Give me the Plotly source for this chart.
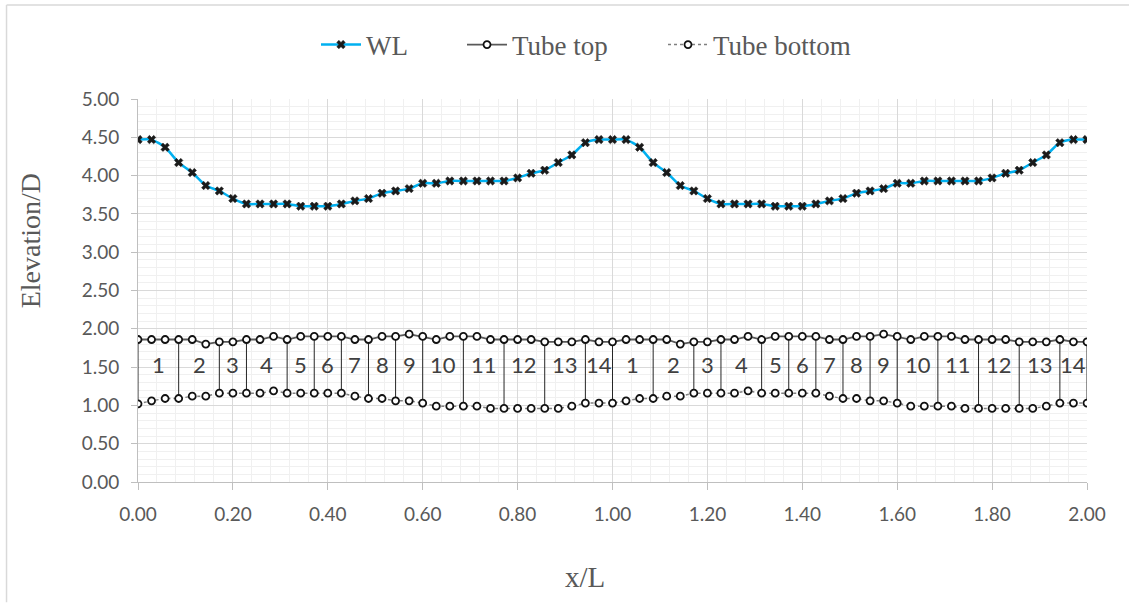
import plotly.graph_objects as go

# x/L positions: 71 stations (spacing 1/35 of L)
n_pts = 71
x_vals = [round(i / 35, 5) for i in range(n_pts)]

wl = [4.47, 4.47, 4.37, 4.17, 4.04, 3.87, 3.80, 3.70, 3.63, 3.63, 3.63, 3.63, 3.60, 3.60, 3.60,
      3.63, 3.67, 3.70, 3.77, 3.80, 3.83, 3.90, 3.90, 3.93, 3.93, 3.93, 3.93, 3.93, 3.97, 4.03,
      4.07, 4.17, 4.27, 4.43, 4.47,
      4.47, 4.47, 4.37, 4.17, 4.04, 3.87, 3.80, 3.70, 3.63, 3.63, 3.63, 3.63, 3.60, 3.60, 3.60,
      3.63, 3.67, 3.70, 3.77, 3.80, 3.83, 3.90, 3.90, 3.93, 3.93, 3.93, 3.93, 3.93, 3.97, 4.03,
      4.07, 4.17, 4.27, 4.43, 4.47, 4.47]

tube_top = [1.86, 1.86, 1.86, 1.86, 1.86, 1.80, 1.83, 1.83, 1.86, 1.86, 1.90, 1.86, 1.90, 1.90, 1.90,
            1.90, 1.86, 1.86, 1.90, 1.90, 1.93, 1.90, 1.86, 1.90, 1.90, 1.90, 1.86, 1.86, 1.86, 1.86,
            1.83, 1.83, 1.83, 1.86, 1.83,
            1.83, 1.86, 1.86, 1.86, 1.86, 1.80, 1.83, 1.83, 1.86, 1.86, 1.90, 1.86, 1.90, 1.90, 1.90,
            1.90, 1.86, 1.86, 1.90, 1.90, 1.93, 1.90, 1.86, 1.90, 1.90, 1.90, 1.86, 1.86, 1.86, 1.86,
            1.83, 1.83, 1.83, 1.86, 1.83, 1.83]

tube_bottom = [1.02, 1.06, 1.09, 1.09, 1.12, 1.12, 1.16, 1.16, 1.16, 1.16, 1.19, 1.16, 1.16, 1.16, 1.16,
               1.16, 1.12, 1.09, 1.09, 1.06, 1.06, 1.03, 0.99, 0.99, 0.99, 0.99, 0.96, 0.96, 0.96, 0.96,
               0.96, 0.96, 0.99, 1.03, 1.03,
               1.03, 1.06, 1.09, 1.09, 1.12, 1.12, 1.16, 1.16, 1.16, 1.16, 1.19, 1.16, 1.16, 1.16, 1.16,
               1.16, 1.12, 1.09, 1.09, 1.06, 1.06, 1.03, 0.99, 0.99, 0.99, 0.99, 0.96, 0.96, 0.96, 0.96,
               0.96, 0.96, 0.99, 1.03, 1.03, 1.03]

# station indices where tube boundaries (vertical lines) are drawn
tube_bounds = [0, 3, 6, 8, 11, 13, 15, 17, 19, 21, 24, 27, 30, 33, 35,
               38, 41, 43, 46, 48, 50, 52, 54, 56, 59, 62, 65, 68, 70]
tube_labels = ["1", "2", "3", "4", "5", "6", "7", "8", "9", "10", "11", "12", "13", "14",
               "1", "2", "3", "4", "5", "6", "7", "8", "9", "10", "11", "12", "13", "14"]
label_y = 1.53

x_ticks = [0.0, 0.2, 0.4, 0.6, 0.8, 1.0, 1.2, 1.4, 1.6, 1.8, 2.0]
y_ticks = [0.0, 0.5, 1.0, 1.5, 2.0, 2.5, 3.0, 3.5, 4.0, 4.5, 5.0]

SERIF = "Liberation Serif, Times New Roman, serif"
SANS = "Lato, Carlito, Calibri, sans-serif"
GRAY = "#595959"

L, R, T, B = 137.5, 42.3, 99, 120.5
PW, PH = 1129 - L - R, 603 - T - B


def px_x(px):
    return (px - L) / PW


def px_y(py):
    return (603 - B - py) / PH


fig = go.Figure()

# vertical tube boundary lines
vx, vy = [], []
for b in tube_bounds:
    vx += [x_vals[b], x_vals[b], None]
    vy += [tube_bottom[b], tube_top[b], None]
fig.add_trace(go.Scatter(x=vx, y=vy, mode="lines", line=dict(color="#262626", width=1),
                         showlegend=False, hoverinfo="skip"))

fig.add_trace(go.Scatter(x=x_vals, y=wl, name="WL", mode="lines+markers", legend="legend",
                         line=dict(color="#00B0F0", width=2.5, shape="spline", smoothing=0.6),
                         marker=dict(symbol="x", size=7.5, color="#1a1a1a",
                                     line=dict(width=0.5, color="#1a1a1a"))))
fig.add_trace(go.Scatter(x=x_vals, y=tube_top, name="Tube top", mode="lines+markers", legend="legend2",
                         line=dict(color="#595959", width=1.8),
                         marker=dict(symbol="circle", size=7, color="white",
                                     line=dict(width=1.8, color="#111111"))))
fig.add_trace(go.Scatter(x=x_vals, y=tube_bottom, name="Tube bottom", mode="lines+markers", legend="legend3",
                         line=dict(color="#7f7f7f", width=1.5, dash="dot"),
                         marker=dict(symbol="circle", size=7, color="white",
                                     line=dict(width=1.8, color="#111111"))))

# tube number labels
for k, lab in enumerate(tube_labels):
    xa = x_vals[tube_bounds[k]]
    xb = x_vals[tube_bounds[k + 1]]
    fig.add_annotation(x=(xa + xb) / 2, y=label_y, text=lab, showarrow=False,
                       font=dict(family=SANS, size=22, color="#404040"),
                       xanchor="center", yanchor="middle")

# axis titles
fig.add_annotation(xref="paper", yref="paper", x=px_x(30), y=px_y(241), text="Elevation/D",
                   textangle=-90, showarrow=False, xanchor="center", yanchor="middle",
                   font=dict(family=SERIF, size=28, color=GRAY))
fig.add_annotation(xref="paper", yref="paper", x=px_x(585), y=px_y(578), text="x/L",
                   showarrow=False, xanchor="center", yanchor="middle",
                   font=dict(family=SERIF, size=29, color=GRAY))

# chart border (top and left edges visible)
fig.add_shape(type="line", xref="paper", yref="paper",
              x0=px_x(6), x1=px_x(1129), y0=px_y(5), y1=px_y(5),
              line=dict(color="#d9d9d9", width=1.5))
fig.add_shape(type="line", xref="paper", yref="paper",
              x0=px_x(6), x1=px_x(6), y0=px_y(5), y1=px_y(603),
              line=dict(color="#d9d9d9", width=1.5))


def leg(text_start_px):
    return dict(orientation="h", xref="container", yref="container",
                x=(text_start_px - 52) / 1129, xanchor="left", y=1 - 45 / 603, yanchor="middle",
                font=dict(family=SERIF, size=27, color=GRAY),
                itemwidth=40, bgcolor="rgba(0,0,0,0)")


fig.update_layout(
    width=1129, height=603,
    margin=dict(l=L, r=R, t=T, b=B),
    paper_bgcolor="white", plot_bgcolor="white",
    legend=leg(368), legend2=leg(514), legend3=leg(715),
    xaxis=dict(range=[0, 2], tickvals=x_ticks, tickformat=".2f",
               showgrid=True, gridcolor="#d9d9d9", gridwidth=1,
               minor=dict(dtick=0.04, showgrid=True, gridcolor="#f0f0f0", gridwidth=1),
               showline=True, linecolor="#bfbfbf", linewidth=1,
               ticks="outside", ticklen=7, tickcolor="#bfbfbf",
               ticklabelstandoff=8,
               tickfont=dict(family=SANS, size=19, color=GRAY),
               zeroline=False, fixedrange=True),
    yaxis=dict(range=[0, 5], tickvals=y_ticks, tickformat=".2f",
               showgrid=True, gridcolor="#d9d9d9", gridwidth=1,
               minor=dict(dtick=0.1, showgrid=True, gridcolor="#f0f0f0", gridwidth=1),
               showline=True, linecolor="#bfbfbf", linewidth=1,
               ticks="outside", ticklen=6, tickcolor="#bfbfbf",
               ticklabelstandoff=8,
               tickfont=dict(family=SANS, size=19, color=GRAY),
               zeroline=False, fixedrange=True),
)

fig.write_html("out.html")
